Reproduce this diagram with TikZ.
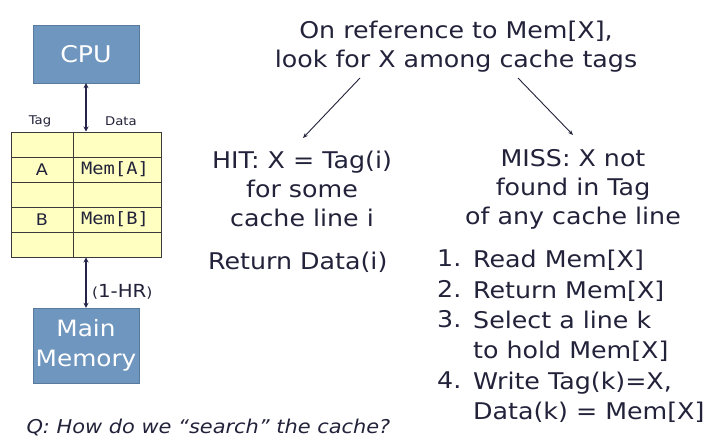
\documentclass[tikz,border=0pt]{standalone}
\usepackage{fontspec}
\setmainfont{DejaVu Sans}[FakeStretch=1.1]
\newfontfamily\monofont{DejaVu Sans Mono}[FakeStretch=1.1]
\usetikzlibrary{arrows.meta,positioning}
\definecolor{cbox}{HTML}{6F96BE}
\definecolor{cboxd}{HTML}{587A9C}
\definecolor{ctext}{HTML}{22223A}
\definecolor{carrow}{HTML}{24244A}
\definecolor{ccell}{HTML}{FFFFC2}
\definecolor{cline}{HTML}{3A3A3A}
\tikzset{
  unit/.style={draw=cboxd, fill=cbox, text=white, minimum width=106pt, align=center},
  cell/.style={font=\fontsize{16}{18}\selectfont, text=ctext},
  mcell/.style={font=\monofont\fontsize{17}{18}\selectfont, text=ctext},
  hdr/.style={font=\fontsize{12}{13}\selectfont, text=ctext},
  txt/.style={font=\fontsize{23}{29}\selectfont, text=ctext, align=center, inner sep=0pt},
  lst/.style={font=\fontsize{23}{30.4}\selectfont, text=ctext, align=left, inner sep=0pt},
  link/.style={{Stealth[length=5pt,width=5pt]}-{Stealth[length=5pt,width=5pt]}, draw=carrow, line width=1.4pt},
  pre/.style={-{Stealth[length=5pt,width=4pt]}, draw=ctext, line width=0.9pt},
}
\begin{document}
\begin{tikzpicture}[x=1pt,y=-1pt]
\useasboundingbox[fill=white] (0,0) rectangle (715,444);
% ---------------- left: cpu, cache, memory
\node[unit, minimum height=58pt, font=\fontsize{23}{30}\selectfont] (cpu) at (86,54) {CPU};
\node[draw=cline, fill=ccell, line width=1pt, minimum width=150pt, minimum height=125pt, inner sep=0pt] (cache) at (86,194.5) {};
\foreach \y in {157,182,207,232} \draw[cline, line width=1pt] (cache.west |- 0,\y) -- (cache.east |- 0,\y);
\draw[cline, line width=1pt] (73,0 |- cache.north) -- (73,0 |- cache.south);
\node[hdr] (htag) at (40,121) {Tag};
\node[hdr] (hdata) at (121,121) {Data};
\node[cell] (ta) at (42,170) {A};
\node[mcell] (da) at (115,169) {Mem[A]};
\node[cell] (tb) at (42,220) {B};
\node[mcell] (db) at (115,219) {Mem[B]};
\node[unit, minimum height=75pt, inner sep=1pt, font=\fontsize{22.5}{30}\selectfont] (mem) at (86,345.5) {Main\\Memory};
\draw[link] (cpu.south) -- (cache.north);
\draw[link] (cache.south) -- node[right, pos=0.68, font=\fontsize{18}{20}\selectfont, text=ctext, xshift=2pt] {{\fontsize{14}{14}\selectfont(}1-HR{\fontsize{14}{14}\selectfont)}} (mem.north);
\node[font=\itshape\fontsize{19}{20}\selectfont, text=ctext, anchor=west] (q) at (23,428) {Q: How do we “search” the cache?};
% ---------------- right: lookup
\node[txt] (ref) at (456,47) {On reference to Mem[X],\\look for X among cache tags};
\node[txt] (hit) at (302,189) {HIT: X = Tag(i)\\for some\\cache line i};
\node[txt] (miss) at (573,189) {MISS: X not\\found in Tag\\of any cache line};
\coordinate (refl) at (360,78);
\coordinate (refr) at (518,78);
\coordinate (hitt) at (303,138);
\coordinate (misst) at (573,135);
\draw[pre] (refl) -- (hitt);
\draw[pre] (refr) -- (misst);
\node[txt, anchor=west] (ret) at (208,262) {Return Data(i)};
\node[lst, anchor=north west] (nums) at (437,250) {1.\\2.\\3.\\\\4.};
\node[lst, anchor=north west] (steps) at (473,250) {Read Mem[X]\\Return Mem[X]\\Select a line k\\to hold Mem[X]\\Write Tag(k)=X,\\Data(k) = Mem[X]};
\end{tikzpicture}
\end{document}
